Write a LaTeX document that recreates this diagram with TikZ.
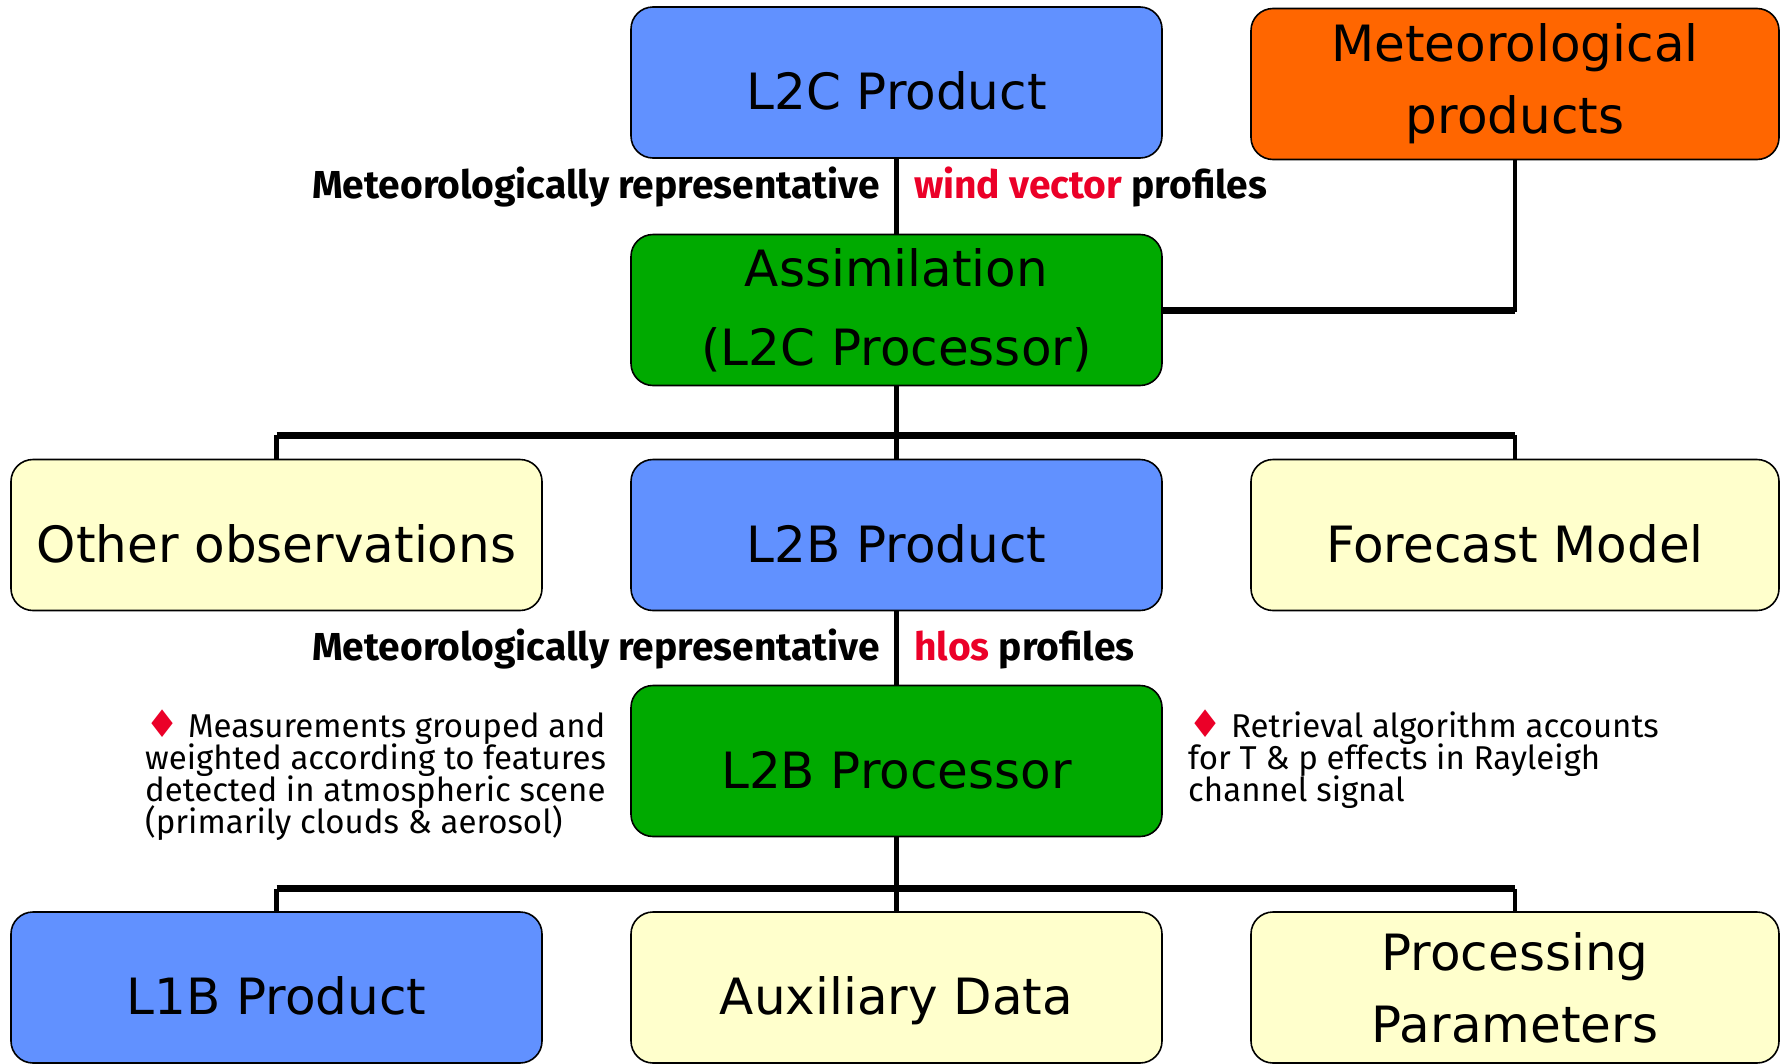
\documentclass[tikz,border=0pt]{standalone}
\usepackage{fontspec}
\setmainfont{DejaVu Sans}
\newfontfamily\boxfont{DejaVu Sans}
\newfontfamily\notefont{Fira Sans}
\newfontfamily\symfont{DejaVu Sans}
\definecolor{prodblue}{RGB}{97,145,255}
\definecolor{procgreen}{RGB}{0,170,0}
\definecolor{metorange}{RGB}{255,102,0}
\definecolor{inputcream}{RGB}{255,255,204}
\definecolor{alertred}{RGB}{235,0,40}
\newcommand{\notesetup}{\notefont\fontsize{33}{32}\selectfont\lineskiplimit=-100pt\relax}
\tikzset{
  box/.style={draw=black, line width=1.6pt, rounded corners=22pt,
    minimum width=531pt, minimum height=151pt, inner sep=0pt, align=center,
    font=\boxfont\fontsize{50}{72}\selectfont},
  oneline/.style={text height=54pt, text depth=0pt},
  link/.style={draw=black, line width=4.5pt},
  bus/.style={draw=black, line width=7pt},
  lab/.style={inner sep=0pt, font=\notefont\bfseries\fontsize{39}{44}\selectfont},
  note/.style={inner sep=0pt, align=left, font=\notesetup}
}
\newcommand{\redmark}{{\symfont\fontsize{38}{32}\selectfont\color{alertred}♦}}
\begin{document}
\begin{tikzpicture}[x=1pt,y=-1pt]
\useasboundingbox (0,0) rectangle (1780,1063);
\clip (0,0) rectangle (1780,1063);
\fill[white] (0,0) rectangle (1780,1063);

% boxes
\node[box, oneline, fill=prodblue] (l2c) at (896.5,82.5) {L2C Product};
\node[box, fill=metorange, minimum width=528pt] (met) at (1515,84) {Meteorological\\products};
\node[box, fill=procgreen, font=\boxfont\fontsize{50}{79}\selectfont] (assim) at (896.5,310) {Assimilation\\(L2C Processor)};
\node[box, oneline, fill=inputcream] (obs) at (276.5,535) {Other observations};
\node[box, oneline, fill=prodblue] (l2b) at (896.5,535) {L2B Product};
\node[box, oneline, fill=inputcream, minimum width=528pt] (fc) at (1515,535) {Forecast Model};
\node[box, oneline, fill=procgreen] (l2bp) at (896.5,761) {L2B Processor};
\node[box, oneline, fill=prodblue] (l1b) at (276.5,987.5) {L1B Product};
\node[box, oneline, fill=inputcream] (aux) at (896.5,987.5) {Auxiliary Data};
\node[box, fill=inputcream, minimum width=528pt] (pp) at (1515,987.5) {Processing\\Parameters};

% bus heights
\coordinate (busA) at (0,435);
\coordinate (busB) at (0,888.5);

% connectors
\draw[link] (l2c.south) -- (assim.north);
\draw[link] (met.south) -- (met.south |- assim.east) -- (assim.east);
\draw[bus] (assim.east) -- (met.south |- assim.east);

\draw[link] (assim.south) -- (l2b.north);
\draw[link] (obs.north) -- (obs.north |- busA);
\draw[link] (fc.north) -- (fc.north |- busA);
\draw[bus] (obs.north |- busA) -- (fc.north |- busA);

\draw[link] (l2b.south) -- (l2bp.north);

\draw[link] (l2bp.south) -- (aux.north);
\draw[link] (l1b.north) -- (l1b.north |- busB);
\draw[link] (pp.north) -- (pp.north |- busB);
\draw[bus] (l1b.north |- busB) -- (pp.north |- busB);

% link labels
\node[lab, anchor=base east] (labAl) at (880,198) {Meteorologically representative};
\node[lab, anchor=base west] (labAr) at (914,198) {\textcolor{alertred}{wind vector} profiles};
\node[lab, anchor=base east] (labBl) at (880,660) {Meteorologically representative};
\node[lab, anchor=base west] (labBr) at (914,660) {\textcolor{alertred}{hlos} profiles};

% notes
\node[note, anchor=north west] (noteL) at (145,710) {\redmark\ Measurements grouped and\\weighted according to features\\detected in atmospheric scene\\(primarily clouds \& aerosol)};
\node[note, anchor=north west] (noteR) at (1188,710) {\redmark\ Retrieval algorithm accounts\\for T \& p effects in Rayleigh\\channel signal};
\end{tikzpicture}
\end{document}
